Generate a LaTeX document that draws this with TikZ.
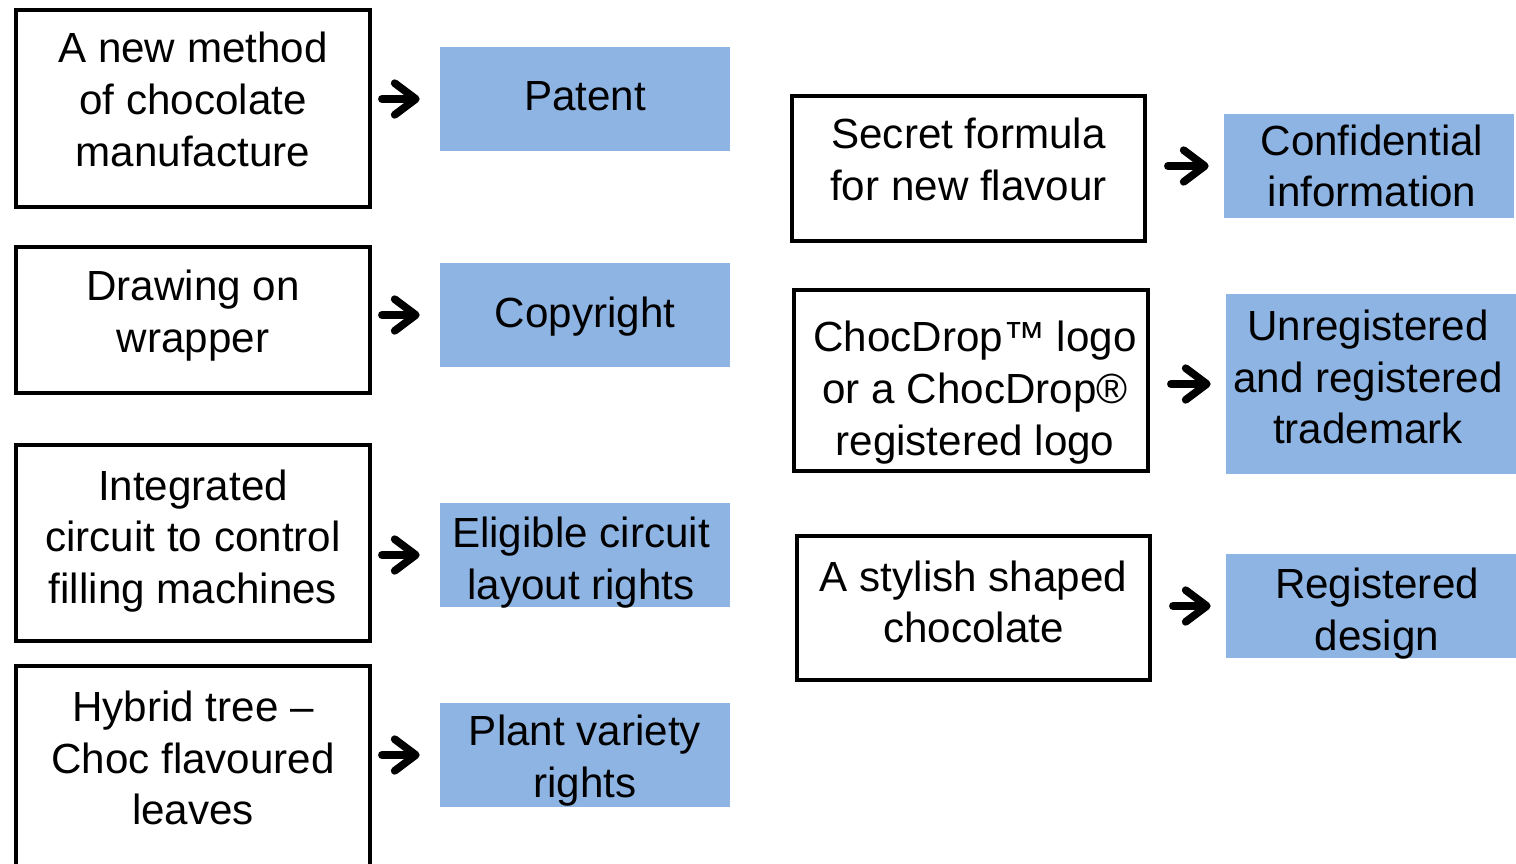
\documentclass[tikz,border=0pt]{standalone}
\usepackage{fontspec}
\setmainfont{Liberation Sans}
\usetikzlibrary{arrows.meta}
\definecolor{rechtblau}{RGB}{142,180,227}

\begin{document}
\begin{tikzpicture}[x=0.02cm,y=-0.02cm,
    schrift/.style={font=\fontsize{24}{29.5}\selectfont, align=center, inner sep=0pt},
    quelle/.style={draw, line width=2.2pt},
    recht/.style={fill=rechtblau},
    pfeil/.style={line width=4.4pt, line cap=round, -{Straight Barb[length=12pt,width=18pt,line cap=round,line join=round]}}]
            % Pixelgröße
            \def\px{0.02cm}

            % Rahmen wie im Bild
            \useasboundingbox (0,0) rectangle (1516,863);

            % Linke Spalte: Schöpfungen
            \node[quelle, minimum width=354*\px, minimum height=197*\px] (methode) at (193,108.5) {};
            \node[schrift] (methodetxt) at ([yshift=9*\px]methode) {A new method\\of chocolate\\manufacture};
            \node[quelle, minimum width=354*\px, minimum height=146*\px] (zeichnung) at (193,320) {};
            \node[schrift] (zeichnungtxt) at ([yshift=4*\px]zeichnung) {Drawing on\\wrapper};
            \node[quelle, minimum width=354*\px, minimum height=196*\px] (schaltung) at (193,543) {};
            \node[schrift] (schaltungtxt) at ([yshift=2*\px]schaltung) {Integrated\\circuit to control\\filling machines};
            \node[quelle, minimum width=354*\px, minimum height=204*\px] (baum) at (193,768) {};
            \node[schrift] (baumtxt) at ([yshift=10*\px]baum) {Hybrid tree –\\Choc flavoured\\leaves};

            % Linke Spalte: Schutzrechte
            \node[recht, minimum width=290*\px, minimum height=104*\px] (patent) at (585,99) {};
            \node[schrift] (patenttxt) at ([yshift=3*\px]patent) {Patent};
            \node[recht, minimum width=290*\px, minimum height=104*\px] (urheber) at (585,315) {};
            \node[schrift] (urhebertxt) at ([yshift=-2*\px]urheber) {Copyright};
            \node[recht, minimum width=290*\px, minimum height=104*\px] (layout) at (585,555) {};
            \node[schrift] (layouttxt) at ([shift={(-4*\px,-8*\px)}]layout) {Eligible circuit\\layout rights};
            \node[recht, minimum width=290*\px, minimum height=104*\px] (sorte) at (585,755) {};
            \node[schrift] (sortetxt) at ([yshift=-6*\px]sorte) {Plant variety\\rights};

            % Rechte Spalte: Schöpfungen
            \node[quelle, minimum width=353*\px, minimum height=145*\px] (formel) at (968.5,168.5) {};
            \node[schrift] (formeltxt) at ([yshift=9*\px]formel) {Secret formula\\for new flavour};
            \node[quelle, minimum width=354*\px, minimum height=181*\px] (logo) at (971,380.5) {};
            \node[schrift] (logotxt) at ([shift={(4*\px,-12*\px)}]logo) {ChocDrop™ logo\\or a ChocDrop®\\registered logo};
            \node[quelle, minimum width=353*\px, minimum height=144*\px] (form) at (973.5,608) {};
            \node[schrift] (formtxt) at ([yshift=6*\px]form) {A stylish shaped\\chocolate};

            % Rechte Spalte: Schutzrechte
            \node[recht, minimum width=290*\px, minimum height=104*\px] (geheim) at (1369,166) {};
            \node[schrift] (geheimtxt) at ([xshift=3*\px]geheim) {Confidential\\information};
            \node[recht, minimum width=290*\px, minimum height=180*\px] (marke) at (1371,384) {};
            \node[schrift] (marketxt) at ([shift={(-3*\px,7*\px)}]marke) {Unregistered\\and registered\\trademark};
            \node[recht, minimum width=290*\px, minimum height=104*\px] (design) at (1371,606) {};
            \node[schrift] (designtxt) at ([shift={(6*\px,-8*\px)}]design) {Registered\\design};

            % Pfeile
            \foreach \a/\b in {methode/patent, zeichnung/urheber, schaltung/layout, baum/sorte} {
                \draw[pfeil, shorten <=10*\px, shorten >=20*\px] (\a.east |- \b.west) -- (\b.west);
            }
            \foreach \a/\b in {formel/geheim, logo/marke, form/design} {
                \draw[pfeil, shorten <=21*\px, shorten >=15*\px] (\a.east |- \b.west) -- (\b.west);
            }
        \end{tikzpicture}
\end{document}
